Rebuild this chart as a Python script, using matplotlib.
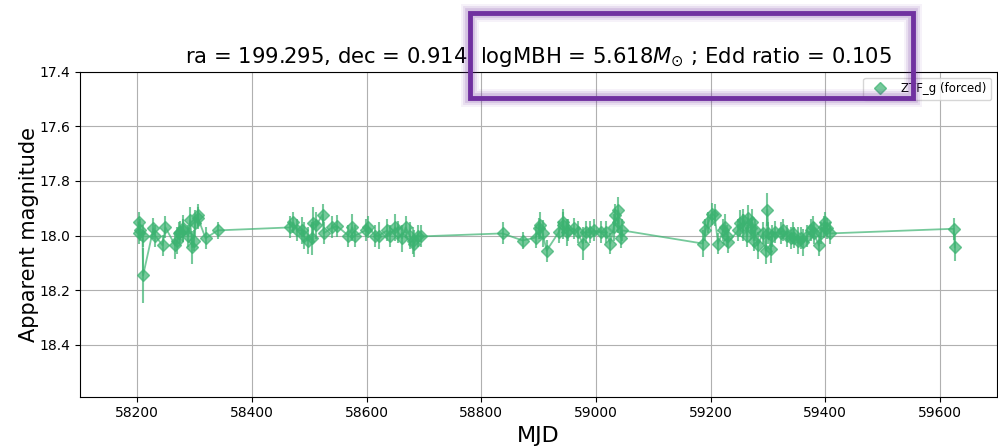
import matplotlib
matplotlib.use("Agg")
import matplotlib.pyplot as plt
from matplotlib.lines import Line2D
from matplotlib.patches import Rectangle
import numpy as np

# ZTF g-band forced photometry light curve
mjd = [
    58202, 58203, 58205, 58209, 58210, 58228, 58231, 58244, 58249, 58266,
    58270, 58272, 58275, 58279, 58280, 58289, 58292, 58296, 58298, 58301,
    58305, 58306, 58319, 58340,
    58467, 58472, 58479, 58488, 58490, 58497, 58505, 58507, 58512, 58523,
    58525, 58540, 58549, 58568, 58575, 58580, 58598, 58603, 58615, 58621,
    58636, 58641, 58650, 58655, 58662, 58668, 58675, 58680, 58683, 58689,
    58694,
    58837, 58872, 58895, 58900, 58903, 58907, 58914, 58935, 58942, 58943,
    58950, 58952, 58961, 58968, 58977, 58982, 58990, 58996, 59008, 59017,
    59025, 59031, 59034, 59038, 59039, 59043, 59046,
    59186, 59191, 59196, 59203, 59207, 59213, 59222, 59225, 59229, 59231,
    59248, 59252, 59256, 59257, 59264, 59266, 59270, 59273, 59275, 59278,
    59282, 59291, 59296, 59299, 59301, 59305, 59308, 59313, 59322, 59326,
    59334, 59340, 59343, 59345, 59352, 59357, 59362, 59369, 59375, 59379,
    59380, 59389, 59392, 59397, 59400, 59403, 59409,
    59624, 59626,
]
mag = [
    17.952, 17.992, 17.981, 18.000, 18.146, 17.974, 18.000, 18.036, 17.970, 18.036,
    18.018, 17.992, 17.988, 17.974, 17.981, 18.000, 17.944, 18.043, 18.018, 17.955,
    17.926, 17.937, 18.010, 17.981,
    17.970, 17.952, 17.981, 17.981, 18.000, 18.018, 18.010, 17.955, 17.963, 17.923,
    17.992, 17.970, 17.966, 18.000, 17.970, 18.000, 17.981, 17.970, 18.000, 18.000,
    17.981, 18.000, 17.970, 17.988, 18.010, 17.970, 18.000, 18.018, 18.029, 18.000,
    18.003,
    17.992, 18.018, 18.007, 17.974, 17.963, 17.992, 18.055, 17.988, 17.952, 17.963,
    17.988, 17.981, 17.974, 17.988, 18.029, 17.988, 17.988, 17.981, 17.988, 17.988,
    18.029, 17.970, 17.926, 17.952, 17.908, 18.007, 17.981,
    18.029, 17.981, 17.952, 17.920, 17.926, 18.029, 17.981, 17.970, 18.000, 18.025,
    17.981, 17.955, 17.970, 17.944, 18.000, 17.937, 17.974, 17.952, 18.018, 17.981,
    18.036, 17.992, 18.055, 17.905, 17.992, 18.050, 18.000, 17.988, 17.992, 17.981,
    18.000, 18.010, 17.992, 18.007, 18.018, 18.010, 18.025, 18.000, 17.981, 17.970,
    17.992, 18.036, 17.992, 17.970, 17.952, 17.974, 17.992,
    17.975, 18.043,
]
mag_err = [
    0.04, 0.04, 0.04, 0.04, 0.10, 0.04, 0.04, 0.04, 0.04, 0.05,
    0.05, 0.04, 0.04, 0.05, 0.04, 0.04, 0.05, 0.06, 0.04, 0.05,
    0.04, 0.04, 0.04, 0.03,
    0.04, 0.04, 0.04, 0.05, 0.05, 0.05, 0.06, 0.06, 0.05, 0.04,
    0.04, 0.04, 0.04, 0.04, 0.05, 0.04, 0.04, 0.04, 0.04, 0.05,
    0.04, 0.04, 0.05, 0.04, 0.05, 0.04, 0.05, 0.05, 0.05, 0.04,
    0.04,
    0.04, 0.03, 0.04, 0.04, 0.05, 0.05, 0.04, 0.04, 0.05, 0.05,
    0.05, 0.04, 0.04, 0.04, 0.06, 0.04, 0.04, 0.04, 0.04, 0.04,
    0.04, 0.05, 0.04, 0.04, 0.05, 0.04, 0.04,
    0.05, 0.04, 0.04, 0.04, 0.04, 0.04, 0.04, 0.05, 0.04, 0.04,
    0.04, 0.05, 0.05, 0.04, 0.04, 0.05, 0.04, 0.05, 0.04, 0.04,
    0.05, 0.04, 0.05, 0.06, 0.04, 0.05, 0.04, 0.04, 0.04, 0.04,
    0.04, 0.04, 0.04, 0.04, 0.05, 0.04, 0.05, 0.04, 0.04, 0.04,
    0.04, 0.04, 0.04, 0.04, 0.04, 0.04, 0.04,
    0.04, 0.05,
]

band_label = "ZTF_g (forced)"
title = r"ra = 199.295, dec = 0.914  logMBH = 5.618$M_{\odot}$ ; Edd ratio = 0.105"
color = "mediumseagreen"

fig = plt.figure(figsize=(9.98, 4.47), dpi=100)
ax = fig.add_axes([0.0802, 0.1125, 0.919, 0.727])

ax.plot(mjd, mag, "-", color=color, alpha=0.7, lw=1.3, zorder=2)
ax.errorbar(mjd, mag, yerr=mag_err, fmt="D", color=color, alpha=0.7,
            ms=6, elinewidth=1.5, capsize=0, zorder=3)

ax.set_xlim(58100, 59700)
ax.set_ylim(18.59, 17.4)
ax.set_yticks([17.4, 17.6, 17.8, 18.0, 18.2, 18.4])
ax.grid(True)
ax.set_axisbelow(True)
ax.set_xlabel("MJD", fontsize=16)
ax.set_ylabel("Apparent magnitude", fontsize=15, labelpad=0)
ax.set_title(title, fontsize=15.2)

handle = Line2D([], [], marker="D", ls="none", color=color, alpha=0.7, ms=6)
ax.legend([handle], [band_label], loc="upper right", fontsize=8.5)

# highlight box around the black hole parameters
x0, y0 = 470 / 998, 1 - 98 / 447
w, h = (913 - 470) / 998, (98 - 13) / 447
for lw, a in [(13, 0.06), (10, 0.1), (7, 0.16)]:
    fig.patches.append(Rectangle((x0, y0), w, h, transform=fig.transFigure,
                                 fill=False, ec="#7030a0", lw=lw, alpha=a, zorder=10))
fig.patches.append(Rectangle((x0, y0), w, h, transform=fig.transFigure,
                             fill=False, ec="#7030a0", lw=3.5, zorder=11))

fig.savefig("out.png", dpi=100)
